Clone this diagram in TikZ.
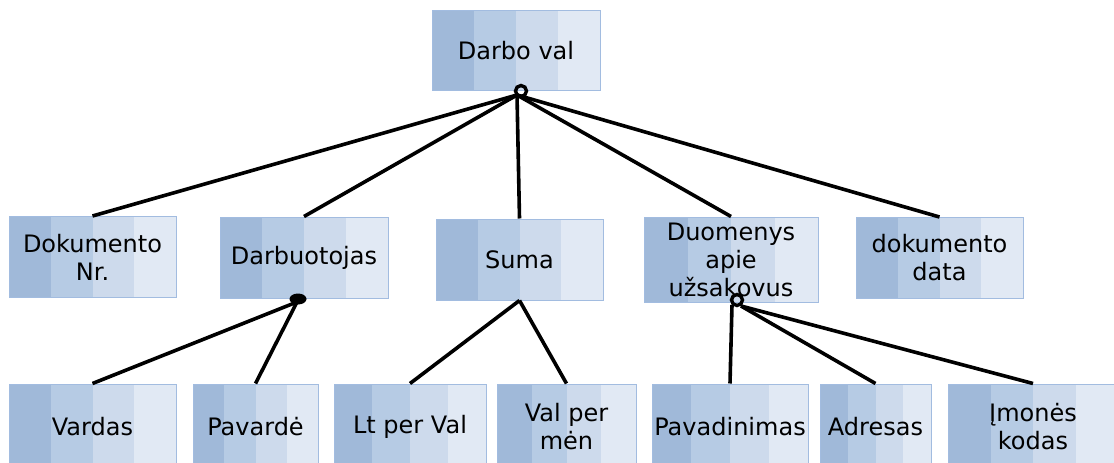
\documentclass[tikz,border=0pt]{standalone}
\usepackage{fontspec}
\setmainfont{DejaVu Sans}
\usetikzlibrary{calc}
\definecolor{stripeA}{HTML}{A0B9D9}
\definecolor{stripeB}{HTML}{B6CBE4}
\definecolor{stripeC}{HTML}{CDDAEC}
\definecolor{stripeD}{HTML}{E1E9F4}
\definecolor{boxline}{HTML}{A2BCE0}
\tikzset{
  stripebox/.style={rectangle, draw=boxline, line width=1pt, inner sep=2pt,
    align=center, text=black, font=\fontsize{24}{28}\selectfont,
    path picture={
      \foreach \c [count=\i from 0] in {stripeA,stripeB,stripeC,stripeD}
        \fill[\c] ($(path picture bounding box.south west)!{\i/4}!(path picture bounding box.south east)$)
          rectangle ($(path picture bounding box.north west)!{(\i+1)/4}!(path picture bounding box.north east)$);
    }},
  link/.style={line width=3.6pt, black},
  loopmark/.style={line width=3.4pt, black},
}
\begin{document}
\begin{tikzpicture}[x=1pt,y=-1pt]
\useasboundingbox (0,0) rectangle (1114,463);

% root
\node[stripebox, minimum width=168, minimum height=80] (root) at (516,50.5) {Darbo val};

% middle row
\node[stripebox, minimum width=167, minimum height=81] (dok)  at (92.5,257)  {Dokumento\\Nr.};
\node[stripebox, minimum width=168, minimum height=81] (darb) at (304,257.5)   {Darbuotojas};
\node[stripebox, minimum width=167, minimum height=81] (suma) at (519.5,259.5) {Suma};
\node[stripebox, minimum width=174, minimum height=85] (duom) at (731,259.5)   {Duomenys\\apie\\užsakovus};
\node[stripebox, minimum width=167, minimum height=81] (data) at (939.5,258) {dokumento\\data};

% bottom row (runs past the lower edge)
\node[stripebox, minimum width=167, minimum height=86] (vard)  at (92.5,427)  {Vardas};
\node[stripebox, minimum width=125, minimum height=86] (pav)   at (255.5,427) {Pavardė};
\node[stripebox, minimum width=152, minimum height=86] (lt)    at (410,427)   {Lt per Val};
\node[stripebox, minimum width=139, minimum height=86] (valm)  at (566.5,427) {Val per\\mėn};
\node[stripebox, minimum width=156, minimum height=86] (pavad) at (730,427)   {Pavadinimas};
\node[stripebox, minimum width=111, minimum height=86] (adr)   at (875.5,427) {Adresas};
\node[stripebox, minimum width=170, minimum height=86] (imon)  at (1033,427)  {Įmonės\\kodas};

% junction points
\coordinate (j1) at (517,95);
\coordinate (j2) at (297,302);
\coordinate (j4a) at (732,305);
\coordinate (j4b) at (741,306);

% connectors
\draw[link] (j1) -- (dok.north);
\draw[link] (j1) -- (darb.north);
\draw[link] (j1) -- (suma.north);
\draw[link] (j1) -- (duom.north);
\draw[link] (j1) -- (data.north);

\draw[link] (j2) -- (vard.north);
\draw[link] (j2) -- (pav.north);

\draw[link] (suma.south) -- (lt.north);
\draw[link] (suma.south) -- (valm.north);

\draw[link] (j4a) -- (pavad.north);
\draw[link] (j4b) -- (adr.north);
\draw[link] (j4b) -- (imon.north);

% junction marks
\draw[loopmark] (521,91) circle (5.5);
\fill (298,299) ellipse (8.5 and 5.5);
\draw[loopmark] (737,300) circle (5.5);
\end{tikzpicture}
\end{document}
